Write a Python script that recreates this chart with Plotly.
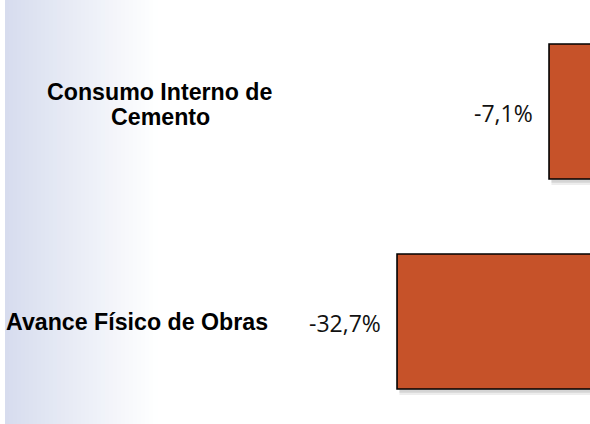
import plotly.graph_objects as go

categories = ["Avance Físico de Obras", "Consumo Interno de Cemento"]
values = [-32.7, -7.1]
value_labels = ["-32,7%", "-7,1%"]

W, H = 590, 424
BAR_COLOR = "#C65229"

fig = go.Figure()

# soft shadow behind bars
for sh, alpha in [(0.028, 0.07), (0.018, 0.10)]:
    fig.add_trace(go.Bar(
        y=[0, 1], x=values, orientation="h", width=0.643, offset=-0.643 / 2 - sh,
        base=[0.4, 0.4], marker=dict(color="rgba(0,0,0,%.2f)" % alpha, line=dict(width=0)),
        hoverinfo="skip", showlegend=False,
    ))
fig.add_trace(go.Bar(
    y=[0, 1], x=values, orientation="h", width=0.643,
    marker=dict(color=BAR_COLOR, line=dict(color="#000000", width=1.6)),
    showlegend=False,
))

# value labels
for i, (v, t) in enumerate(zip(values, value_labels)):
    fig.add_annotation(x=v, y=i, xref="x", yref="y", text=t, showarrow=False,
                       xanchor="right", yanchor="middle", xshift=-14, yshift=-1,
                       font=dict(family="Open Sans", size=23, color="#111111"))

# category labels
lab_font = dict(family="Liberation Sans, Arial", size=23.2, color="#000000")
fig.add_annotation(x=160 / W, y=1, xref="paper", yref="y", text="<b>Consumo Interno de</b>",
                   showarrow=False, xanchor="center", yanchor="middle", yshift=20, font=lab_font)
fig.add_annotation(x=161 / W, y=1, xref="paper", yref="y", text="<b>Cemento</b>",
                   showarrow=False, xanchor="center", yanchor="middle", yshift=-5, font=lab_font)
fig.add_annotation(x=270 / W, y=0, xref="paper", yref="y", text="<b>Avance Físico de Obras</b>",
                   showarrow=False, xanchor="right", yanchor="middle", yshift=0, font=lab_font)

# left gradient background
shapes = []
x0, x1 = 5, 157
c0 = (214, 220, 238)
steps = 38
for k in range(steps):
    a = x0 + (x1 - x0) * k / steps
    b = x0 + (x1 - x0) * (k + 1) / steps + 0.6
    f = (k + 0.5) / steps
    col = tuple(round(c0[j] + (255 - c0[j]) * f) for j in range(3))
    shapes.append(dict(type="rect", xref="paper", yref="paper", x0=a / W, x1=b / W, y0=0, y1=1,
                       fillcolor="rgb(%d,%d,%d)" % col, line=dict(width=0), layer="below"))

fig.update_layout(
    width=W, height=H, margin=dict(l=0, r=0, t=0, b=0),
    paper_bgcolor="white", plot_bgcolor="rgba(0,0,0,0)",
    barmode="overlay", shapes=shapes, showlegend=False,
    xaxis=dict(range=[-99.57, -0.2], visible=False, fixedrange=True),
    yaxis=dict(range=[-0.488, 1.531], visible=False, fixedrange=True),
)

fig.write_html("out.html", config={"displayModeBar": False},
               post_script="document.body.style.margin='0';document.body.style.overflow='hidden';")
